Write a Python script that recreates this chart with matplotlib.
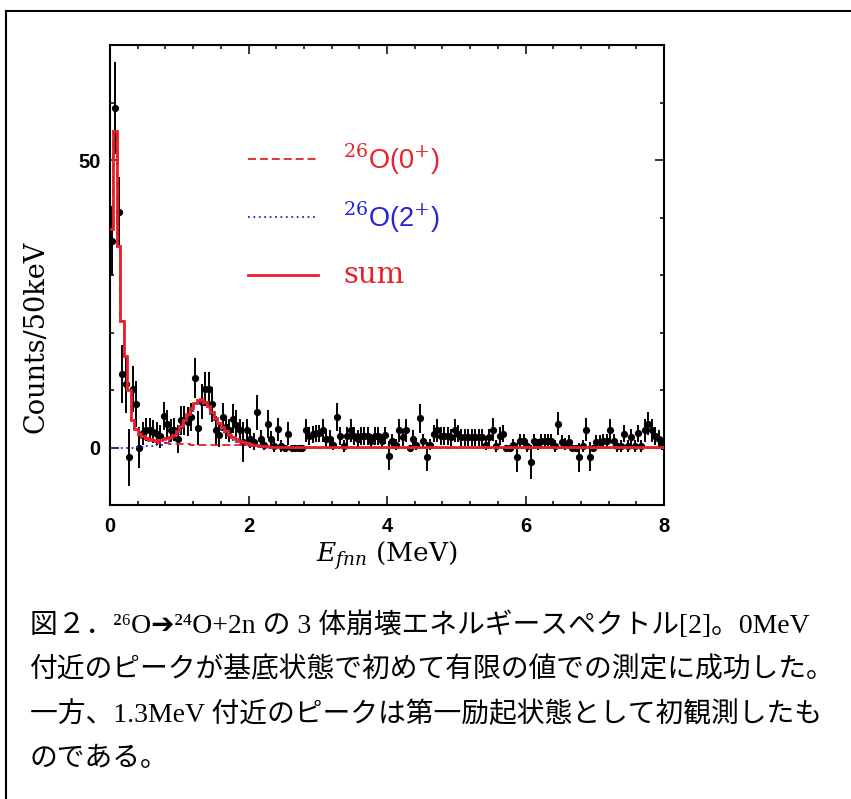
import numpy as np
import matplotlib.pyplot as plt
from matplotlib.ticker import MultipleLocator, FixedLocator
from matplotlib.lines import Line2D

plt.rcParams['mathtext.fontset'] = 'dejavuserif'

# Messdaten: 50 keV Bins von 0 bis 8 MeV
bin_width = 0.05
counts = [
    36, 59, 41, 12.8, 11, -1.7, 10.2, 7.6, 0, 2.5,
    3.1, 3.1, 2.7, 2.4, 2.0, 5.5, 4.1, 3.0, 3.1, 1.5,
    4.7, 4.7, 4.5, 5.3, 12.1, 3.4, 8.0, 10.2, 10.2, 7.5,
    3.0, 2.1, 5.3, 3.5, 3.0, 5.0, 4.0, 3.0, 0.9, 3.0,
    1.5, 1.0, 6.1, 1.5, 0.5, 4.1, 1.4, 0.3, 3.2, 0.3,
    0, 2.4, 0, 0, 0, 0, 3.0, 2.0, 2.3, 2.5,
    2.5, 3.0, 1.5, 1.5, 0.5, 5.3, 2.0, 0.3, 2.0, 3.0,
    2.0, 1.5, 2.0, 2.0, 2.0, 1.2, 2.0, 2.0, 1.2, 2.1,
    -1.4, 1.2, 0.5, 3.0, 1.8, 3.0, 0, 1.5, 0.5, 5.1,
    1.2, -1.6, 0.5, 2.4, 3.0, 2.0, 2.0, 2.0, 1.8, 3.0,
    2.4, 1.8, 1.8, 1.8, 1.8, 1.8, 1.8, 1.8, 0.5, 1.8,
    3.1, 0.3, 2.0, 2.4, 0, 0, 0.5, -1.7, 1.2, 1.2,
    0.3, -2.5, 1.2, 0.5, 1.2, 1.2, 1.2, 1.2, 0.3, 4.1,
    1.0, 0.6, 1.0, 0, 0, -1.7, 0.3, 3.1, -1.6, 0,
    1.0, 1.0, 1.2, 1.2, 3.0, 1.2, 0.3, 0.3, 2.4, 0.3,
    1.8, 0.3, 2.5, 0.3, 3.0, 4.1, 3.0, 2.0, 1.5, 0.5,
]
errors = [
    6, 8, 6, 5, 5, 5, 4, 4, 3.5, 2,
    2, 2, 2, 2, 2, 2.5, 2.5, 2, 2, 2.5,
    2.5, 2.5, 2.5, 2.5, 3.5, 3, 3, 3, 3, 3,
    2.5, 2, 2.5, 2, 2, 2.5, 2.5, 2, 3.5, 2,
    1.5, 1.5, 3, 1.5, 1, 2.5, 1.5, 1, 2, 1,
    0.5, 2, 0.5, 0.5, 0.5, 0.5, 2, 1.5, 1.5, 1.5,
    1.5, 2, 1.5, 1.5, 1, 2.5, 1.5, 1, 1.5, 2,
    1.5, 1.5, 1.5, 1.5, 1.5, 1.2, 1.5, 1.5, 1.2, 1.5,
    2.5, 1.2, 1, 2, 1.5, 2, 0.5, 1.5, 1, 2.5,
    1.2, 2.5, 1, 1.5, 2, 1.5, 1.5, 1.5, 1.5, 2,
    1.5, 1.5, 1.5, 1.5, 1.5, 1.5, 1.5, 1.5, 1, 1.5,
    2, 1, 1.5, 1.5, 0.5, 0.5, 1, 2.5, 1.2, 1.2,
    1, 3, 1.2, 1, 1.2, 1.2, 1.2, 1.2, 1, 2,
    1.2, 1, 1.2, 0.5, 0.5, 2.5, 1, 2, 2.5, 0.5,
    1.2, 1.2, 1.2, 1.2, 2, 1.2, 1, 1, 1.5, 1,
    1.5, 1, 1.5, 1, 2, 2, 2, 1.5, 1.5, 1,
]

# Fitkurven: 50 keV Bins bis 3 MeV, danach ein Bin bis 8 MeV
model_0p = [
    38, 55, 35, 22, 16, 10, 4.8, 3.2, 2.2, 1.7,
    1.4, 1.2, 1.05, 0.95, 0.85, 0.78, 0.72, 0.67, 0.63, 0.6,
    0.58, 0.56, 0.54, 0.52, 0.5, 0.49, 0.48, 0.47, 0.46, 0.45,
    0.44, 0.43, 0.42, 0.41, 0.4, 0.39, 0.38, 0.37, 0.36, 0.35,
    0.32, 0.28, 0.24, 0.2, 0.16, 0.12, 0.09, 0.06, 0.04, 0.02,
    0.01, 0, 0, 0, 0, 0, 0, 0, 0, 0,
    0,
]
model_2p = [
    0, 0, 0, 0, 0, 0, 0, 0.05, 0.1, 0.15,
    0.2, 0.25, 0.3, 0.4, 0.5, 0.65, 0.85, 1.15, 1.6, 2.3,
    3.2, 4.2, 5.3, 6.4, 7.3, 7.8, 7.9, 7.5, 6.7, 5.7,
    4.8, 3.9, 3.1, 2.4, 1.8, 1.35, 1.0, 0.75, 0.55, 0.4,
    0.3, 0.22, 0.16, 0.12, 0.09, 0.07, 0.05, 0.04, 0.03, 0.02,
    0.02, 0.01, 0.01, 0.01, 0.01, 0, 0, 0, 0, 0,
    0,
]
model_sum = [
    38, 55, 35, 22, 16, 10, 4.8, 3.3, 2.4, 2.0,
    1.6, 1.45, 1.35, 1.35, 1.35, 1.45, 1.6, 1.8, 2.2, 2.9,
    3.8, 4.8, 5.8, 6.9, 7.8, 8.3, 8.4, 8.0, 7.2, 6.2,
    5.2, 4.3, 3.5, 2.8, 2.2, 1.75, 1.4, 1.1, 0.9, 0.75,
    0.6, 0.5, 0.4, 0.3, 0.25, 0.2, 0.15, 0.12, 0.1, 0.08,
    0.06, 0.05, 0.05, 0.04, 0.04, 0.03, 0.03, 0.02, 0.02, 0.02,
    0.02,
]

legend_labels = [r'$^{26}$O(0$^{+}$)', r'$^{26}$O(2$^{+}$)', 'sum']

caption_lines = [
    '図２．²⁶O➔²⁴O+2n の 3 体崩壊エネルギースペクトル[2]。0MeV',
    '付近のピークが基底状態で初めて有限の値での測定に成功した。',
    '一方、1.3MeV 付近のピークは第一励起状態として初観測したも',
    'のである。',
]

red = '#e8202a'
blue = '#2424d0'

e_center = np.arange(len(counts)) * bin_width + bin_width / 2
model_edges = np.append(np.arange(len(model_sum)) * bin_width, 8.0)

fig = plt.figure(figsize=(8.51, 7.99), dpi=100)
ax = fig.add_axes([110/851, 1 - 505/799, 554/851, 460/799])

# Datenpunkte
ax.errorbar(e_center, counts, yerr=errors, fmt='o', color='k', ms=4.2,
            elinewidth=1.4, capsize=0, zorder=2)

# Fitkurven
ax.stairs(model_0p, model_edges, baseline=None, color=red, lw=1.3,
          linestyle=(0, (4.4, 2.2)), zorder=3)
ax.stairs(model_2p, model_edges, baseline=None, color=blue, lw=1.3,
          linestyle=(0, (1, 2)), zorder=3)
ax.stairs(model_sum, model_edges, baseline=None, color=red, lw=2.0, zorder=4)

ax.set_xlim(0, 8)
ax.set_ylim(-10, 70)
ax.xaxis.set_major_locator(FixedLocator([0, 2, 4, 6, 8]))
ax.xaxis.set_minor_locator(MultipleLocator(0.4))
ax.yaxis.set_major_locator(FixedLocator([0, 50]))
ax.yaxis.set_minor_locator(MultipleLocator(10))
ax.tick_params(which='both', direction='in', top=True, right=True, width=1.1)
ax.tick_params(which='major', length=6.5)
ax.tick_params(which='minor', length=3)
ax.tick_params(axis='x', pad=9)
ax.tick_params(axis='y', pad=7)
for lab in ax.get_xticklabels() + ax.get_yticklabels():
    lab.set_fontfamily('Liberation Sans')
    lab.set_fontweight('bold')
    lab.set_fontsize(14.5)
for sp in ax.spines.values():
    sp.set_linewidth(1.5)

ax.set_xlabel(r'$E_{fnn}$ (MeV)', family='DejaVu Serif', fontsize=19)
ax.xaxis.set_label_coords(0.5, -0.075)
ax.set_ylabel('Counts/50keV', family='DejaVu Serif', fontsize=19.5)
ax.yaxis.set_label_coords(-0.11, 0.365)

# Legende von Hand
leg_styles = [dict(color=red, lw=1.3, linestyle=(0, (4.4, 2.2))),
              dict(color=blue, lw=1.3, linestyle=(0, (1, 2))),
              dict(color=red, lw=2.0)]
leg_colors = [red, blue, red]
leg_fonts = ['Liberation Sans', 'Liberation Sans', 'DejaVu Serif']
leg_sizes = [19.5, 19.5, 21]
leg_y = [0.752, 0.626, 0.5]
for lab, st, col, fam, fs, y in zip(legend_labels, leg_styles, leg_colors,
                                     leg_fonts, leg_sizes, leg_y):
    ax.plot([0.249, 0.376], [y, y], transform=ax.transAxes, **st)
    ax.text(0.4206, y, lab, transform=ax.transAxes, color=col, family=fam,
            fontsize=fs, va='center', ha='left')

# Rahmen
fig.add_artist(Line2D([6/851, 6/851], [0, 1 - 11/799], transform=fig.transFigure,
                      color='k', lw=1.5))
fig.add_artist(Line2D([6/851, 1], [1 - 11/799, 1 - 11/799], transform=fig.transFigure,
                      color='k', lw=1.5))

# Bildunterschrift
for i, line in enumerate(caption_lines):
    fig.text(30/851, 1 - (625 + 45*i)/799, line, fontsize=20, va='center',
             family=['Liberation Serif', 'Noto Sans CJK JP', 'DejaVu Sans'])

fig.savefig('out.png', dpi=100)
